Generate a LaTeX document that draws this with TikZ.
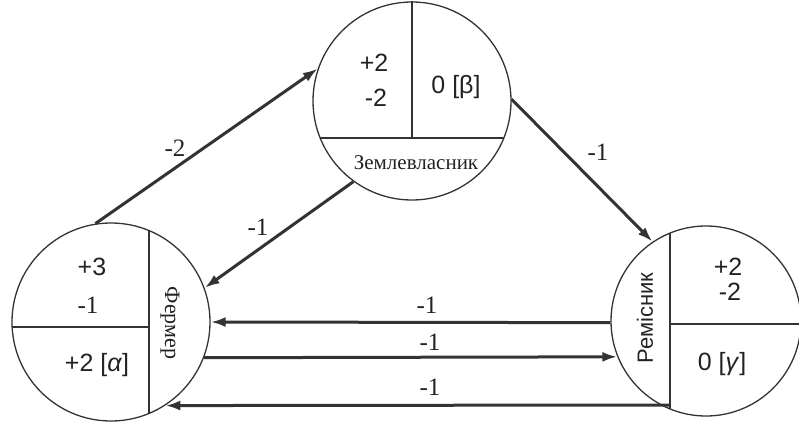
\documentclass[tikz,border=0pt]{standalone}
\usepackage{fontspec}
\setmainfont{Liberation Serif}
\setsansfont{Liberation Sans}
\usetikzlibrary{arrows.meta}
\definecolor{ink}{HTML}{333333}
\definecolor{txt}{HTML}{222222}
\begin{document}
\begin{tikzpicture}[x=1pt,y=-1pt,
  ring/.style={circle,draw=ink,line width=1.3pt,inner sep=0pt},
  divider/.style={draw=ink,line width=2.6pt},
  flow/.style={draw=ink,line width=3pt,-{Latex[length=15pt,width=10pt]}},
  num/.style={font=\sffamily\fontsize{25}{27}\selectfont,text=txt,inner sep=0pt},
  lbl/.style={font=\fontsize{25}{27}\selectfont,text=txt,inner sep=0pt},
  role/.style={font=\fontsize{21}{23}\selectfont,text=txt,inner sep=0pt}]
\useasboundingbox (0,0) rectangle (799,422);
% circles
\node[ring,minimum size=198pt] (land) at (412,101) {};
\node[ring,minimum size=198pt] (farm) at (111,322) {};
\node[ring,minimum size=190pt] (craft) at (706,321) {};
% dividers
\draw[divider] (land.north) -- (412,138);
\draw[divider] (320,138) -- (504,138);
\draw[divider] (149,230.6) -- (149,413.4);
\draw[divider] (12,327) -- (149,327);
\draw[divider] (670,233) -- (670,409);
\draw[divider] (670,324) -- (801,324);
% land texts
\node[num] (l1) at (374,63) {+2};
\node[num] (l2) at (376,98) {-2};
\node[num] (l3) at (456,87) {0 [β]};
\node[role] (lname) at (416,163) {Землевласник};
% farm texts
\node[num] (f1) at (92,267) {+3};
\node[lbl] (f2) at (88,305) {-1};
\node[num] (f3) at (97,365) {+2 [\textit{α}]};
\node[role,font=\fontsize{22}{24}\selectfont,rotate=-90] (fname) at (170,323) {Фермер};
% craft texts
\node[num] (c1) at (728,267) {+2};
\node[num] (c2) at (730,292) {-2};
\node[num] (c3) at (722,364) {0 [\textit{γ}]};
\node[num,font=\sffamily\fontsize{22}{24}\selectfont,rotate=90] (cname) at (645,318) {Ремісник};
% arrows
\coordinate (c6) at (670,405);
\draw[flow] (farm.99.4) -- (land.161.4);
\draw[flow] (land.234) -- (farm.20.3);
\draw[flow] (land.1.75) -- (craft.124.6);
\draw[flow] (craft.181.2) -- (farm.-0.58);
\draw[flow] (farm.-21.3) -- (craft.202.9);
\draw[flow] (c6) -- (farm.-57);
% arrow labels
\node[lbl] (a1) at (175,148) {-2};
\node[lbl] (a2) at (258,227) {-1};
\node[lbl] (a3) at (598,152) {-1};
\node[lbl] (a4) at (427,305) {-1};
\node[lbl] (a5) at (430,342) {-1};
\node[lbl] (a6) at (430,387) {-1};
\end{tikzpicture}
\end{document}
